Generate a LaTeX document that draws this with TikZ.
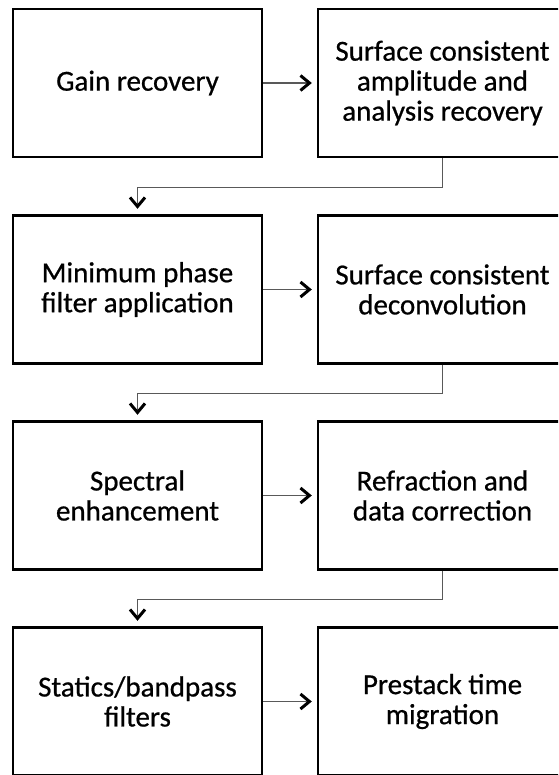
\documentclass[tikz,border=0pt]{standalone}
\usepackage{fontspec}
\setmainfont{Carlito}
\newfontfamily\boxfont{Carlito}[BoldFont=Carlito,BoldFeatures={FakeBold=0.7}]
\usetikzlibrary{arrows.meta}
\begin{document}
\begin{tikzpicture}[x=1pt,y=-1pt,
  box/.style={draw=black,line width=2.4pt,minimum width=249pt,minimum height=148pt,
    align=center,inner sep=0pt,font=\boxfont\bfseries\fontsize{29}{30}\selectfont},
  conn/.style={draw=black!65,line width=1.3pt,
    -{Straight Barb[length=9pt,width=15pt,line width=3pt,color=black]}},
  flow/.style={conn,shorten >=5pt},
  turn/.style={conn,shorten >=5.5pt}]
\useasboundingbox (0,0) rectangle (558,775);
\clip (0,0) rectangle (558,775);
\node[box] (g1) at (137.5,83) {Gain recovery};
\node[box] (s1) at (442.5,83) {Surface consistent\\amplitude and\\analysis recovery};
\node[box] (g2) at (137.5,289.5) {Minimum phase\\filter application};
\node[box] (s2) at (442.5,289.5) {Surface consistent\\deconvolution};
\node[box] (g3) at (137.5,495.5) {Spectral\\enhancement};
\node[box] (s3) at (442.5,495.5) {Refraction and\\data correction};
\node[box] (g4) at (137.5,701.5) {Statics/bandpass\\filters};
\node[box] (s4) at (442.5,701.5) {Prestack time\\migration};
\draw[flow] (g1.east) -- (s1.west);
\draw[flow] (g2.east) -- (s2.west);
\draw[flow] (g3.east) -- (s3.west);
\draw[flow] (g4.east) -- (s4.west);
\draw[turn] (s1.south) -- ++(0,29) -| (g2.north);
\draw[turn] (s2.south) -- ++(0,28.5) -| (g3.north);
\draw[turn] (s3.south) -- ++(0,28.5) -| (g4.north);
\end{tikzpicture}
\end{document}
